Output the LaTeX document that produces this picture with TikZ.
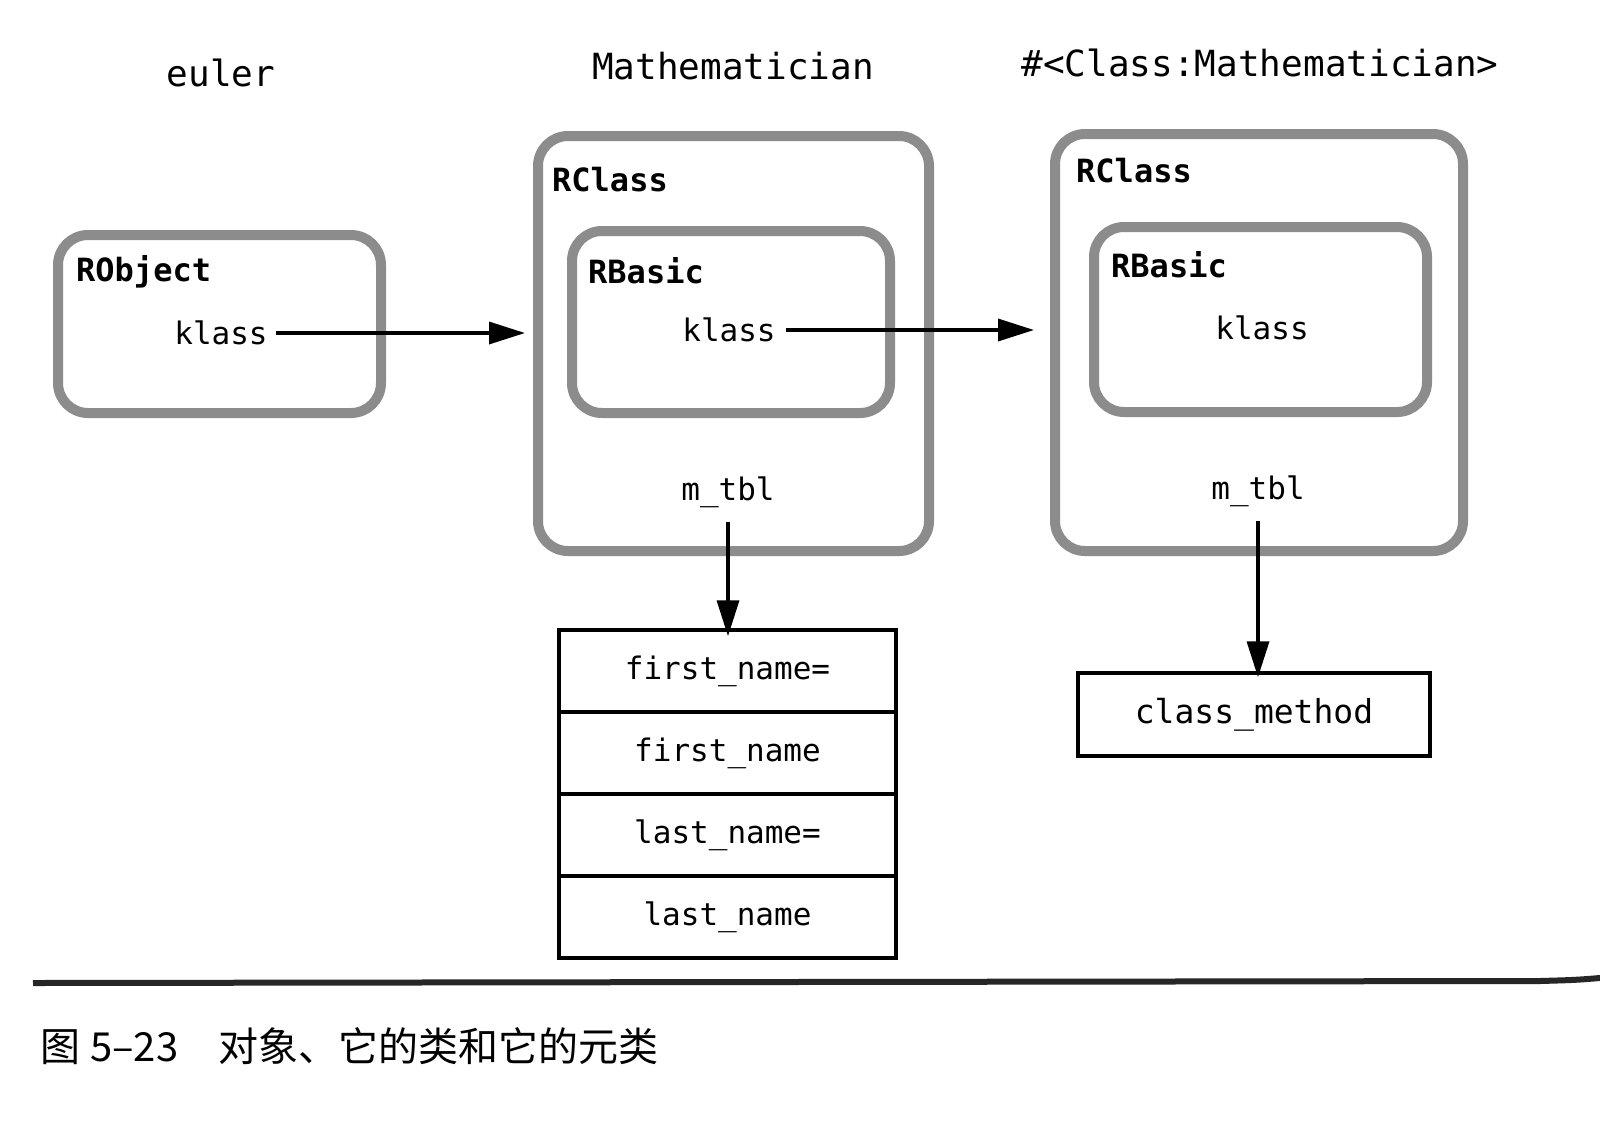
\documentclass[tikz,border=0pt]{standalone}
\usepackage{fontspec}
\newfontfamily\mono{DejaVu Sans Mono}
\newfontfamily\cjk{Noto Sans CJK SC}
\usetikzlibrary{arrows.meta}
\definecolor{boxgray}{gray}{0.55}
\tikzset{
  x=1pt, y=-1pt,
  obj/.style={draw=boxgray, line width=10pt, rounded corners=30pt, inner sep=0pt},
  title/.style={font=\mono\fontsize{36}{40}\selectfont, inner sep=0pt},
  bold/.style={font=\mono\bfseries\fontsize{32}{36}\selectfont, inner sep=0pt, anchor=west},
  field/.style={font=\mono\fontsize{31}{36}\selectfont, inner sep=0pt},
  cell/.style={draw=black, line width=3.5pt, minimum width=337pt, minimum height=82pt, inner sep=0pt, font=\mono\fontsize{31}{36}\selectfont},
  arr/.style={line width=3.5pt, -{Triangle[length=36pt, width=22pt]}},
}
\begin{document}
\begin{tikzpicture}
\useasboundingbox (0,0) rectangle (1600,1130);
\fill[white] (0,0) rectangle (1600,1130);

% headings
\node[title] (heuler) at (221,73) {euler};
\node[title] (hmath) at (733,66) {Mathematician};
\node[title] (hmeta) at (1260,63) {\#<Class:Mathematician>};

% RObject
\node[obj, minimum width=323pt, minimum height=178pt] (robj) at (219.5,324) {};
\node[bold] (robjlbl) at (76,272) {RObject};
\node[field] (k1) at (221,333) {klass};

% RClass of Mathematician
\node[obj, minimum width=391pt, minimum height=415pt] (rc1) at (733.5,343.5) {};
\node[bold] (rc1lbl) at (552,180) {RClass};
\node[obj, minimum width=318pt, minimum height=182pt] (rb1) at (731,322) {};
\node[bold] (rb1lbl) at (588,271) {RBasic};
\node[field] (k2) at (729,330) {klass};
\node[field] (mt1) at (728,492) {m\_tbl};

% RClass of metaclass
\node[obj, minimum width=408pt, minimum height=417pt] (rc2) at (1259,342.5) {};
\node[bold] (rc2lbl) at (1076,171) {RClass};
\node[obj, minimum width=333pt, minimum height=185pt] (rb2) at (1260.5,319.5) {};
\node[bold] (rb2lbl) at (1111,265) {RBasic};
\node[field] (k3) at (1262,328) {klass};
\node[field] (mt2) at (1258,491) {m\_tbl};

% method table
\node[cell] (t1) at (727.5,671) {first\_name=};
\node[cell] (t2) at (727.5,753) {first\_name};
\node[cell] (t3) at (727.5,835) {last\_name=};
\node[cell] (t4) at (727.5,917) {last\_name};

\node[cell, minimum width=352pt, minimum height=83pt, font=\mono\fontsize{33}{38}\selectfont] (cm) at (1254,714.5) {class\_method};

% connectors
\coordinate (s1) at ([xshift=8pt]k1.east);
\draw[arr] (s1) -- ([xshift=-8pt]s1 -| rc1.west);
\coordinate (s2) at ([xshift=10pt]k2.east);
\draw[arr] (s2) -- ([xshift=-16pt]s2 -| rc2.west);
\draw[arr] ([yshift=-14pt]mt1.south) -- ([yshift=-8pt]mt1.south |- t1.north);
\draw[arr] ([yshift=-14pt]mt2.south) -- ([yshift=-6pt]mt2.south |- cm.north);

% rule and caption
\coordinate (r1) at (33,983);
\coordinate (r2) at (1600,978);
\draw[line width=6pt, black!85] (r1) -- (1540,981) .. controls (1575,980) .. (r2);
\node[font=\cjk\fontsize{40}{46}\selectfont, anchor=west, inner sep=0pt] (cap) at (40,1046) {图\hspace{10pt}5–23\hspace{40pt}对象、它的类和它的元类};
\end{tikzpicture}
\end{document}
